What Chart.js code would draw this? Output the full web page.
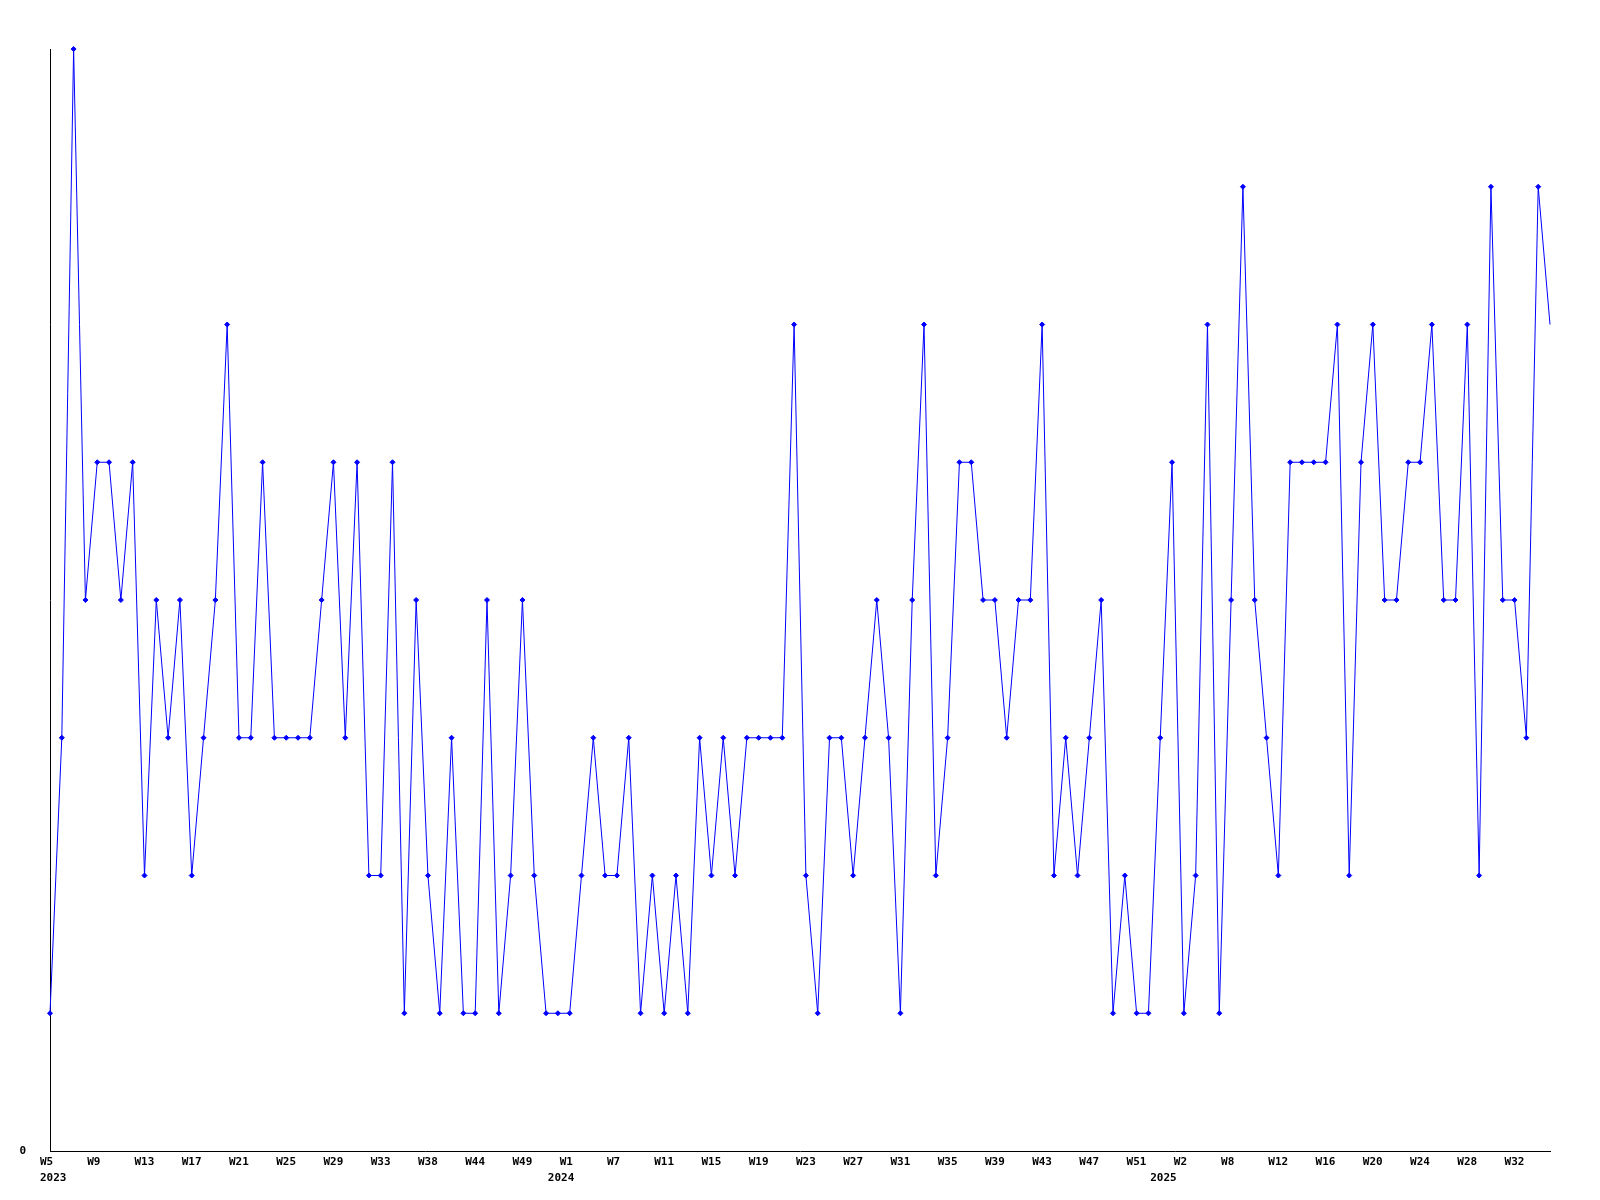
<!DOCTYPE html>
<html>
<head>
<meta charset="utf-8">
<style>
  html, body { margin: 0; padding: 0; background: #fff; }
  #wrap { width: 1600px; height: 1200px; }
</style>
</head>
<body>
<div id="wrap"><canvas id="myChart" width="1600" height="1200"></canvas></div>
<script src="https://cdn.jsdelivr.net/npm/chart.js@4.4.0/dist/chart.umd.min.js"></script>
<script>
// week categories per year (some weeks have no row)
var years = ['2023', '2024', '2025'];
var weeks2023 = ['W5', 'W6', 'W7', 'W8', 'W9', 'W10', 'W11', 'W12', 'W13', 'W14', 'W15', 'W16',
    'W17', 'W18', 'W19', 'W20', 'W21', 'W22', 'W23', 'W24', 'W25', 'W26', 'W27', 'W28', 'W29',
    'W30', 'W31', 'W32', 'W33', 'W34', 'W35', 'W37', 'W38', 'W40', 'W42', 'W43', 'W44', 'W45',
    'W46', 'W48', 'W49', 'W50', 'W51'];
var weeks2024 = ['W0', 'W1', 'W2', 'W4', 'W6', 'W7', 'W8', 'W9', 'W10', 'W11', 'W12', 'W13', 'W14',
    'W15', 'W16', 'W17', 'W18', 'W19', 'W20', 'W21', 'W22', 'W23', 'W24', 'W25', 'W26', 'W27',
    'W28', 'W29', 'W30', 'W31', 'W32', 'W33', 'W34', 'W35', 'W36', 'W37', 'W38', 'W39', 'W40',
    'W41', 'W42', 'W43', 'W44', 'W45', 'W46', 'W47', 'W48', 'W49', 'W50', 'W51', 'W52'];
var weeks2025 = ['W0', 'W1', 'W2', 'W3', 'W5', 'W6', 'W8', 'W9', 'W10', 'W11', 'W12', 'W13', 'W14',
    'W15', 'W16', 'W17', 'W18', 'W19', 'W20', 'W21', 'W22', 'W23', 'W24', 'W25', 'W26', 'W27',
    'W28', 'W29', 'W30', 'W31', 'W32', 'W33', 'W34', 'W35'];

var counts = [1, 3, 8, 4, 5, 5, 4, 5, 2, 4,
    3, 4, 2, 3, 4, 6, 3, 3, 5, 3,
    3, 3, 3, 4, 5, 3, 5, 2, 2, 5,
    1, 4, 2, 1, 3, 1, 1, 4, 1, 2,
    4, 2, 1, 1, 1, 2, 3, 2, 2, 3,
    1, 2, 1, 2, 1, 3, 2, 3, 2, 3,
    3, 3, 3, 6, 2, 1, 3, 3, 2, 3,
    4, 3, 1, 4, 6, 2, 3, 5, 5, 4,
    4, 3, 4, 4, 6, 2, 3, 2, 3, 4,
    1, 2, 1, 1, 3, 5, 1, 2, 6, 1,
    4, 7, 4, 3, 2, 5, 5, 5, 5, 6,
    2, 5, 6, 4, 4, 5, 5, 6, 4, 4,
    6, 2, 7, 4, 4, 3, 7, 6];

var labelEvery = 4;

// build labels; the year name goes under the first week of each year
var labels = [];
var yearAt = {};
[weeks2023, weeks2024, weeks2025].forEach(function (wk, y) {
    yearAt[labels.length] = years[y];
    labels = labels.concat(wk);
});

var tickFont = { family: 'DejaVu Sans Mono', size: 11, weight: 'bold', lineHeight: 1.45 };

var ctx = document.getElementById('myChart').getContext('2d');
var myChart = new Chart(ctx, {
    type: 'line',
    data: {
        labels: labels,
        datasets: [{
            data: counts,
            borderColor: '#0000ff',
            backgroundColor: '#0000ff',
            borderWidth: 1,
            tension: 0,
            pointStyle: 'rectRot',
            pointRadius: function (c) { return c.dataIndex === counts.length - 1 ? 0 : 2.5; },
            pointBorderWidth: 1,
            clip: 8
        }]
    },
    options: {
        responsive: false,
        animation: false,
        devicePixelRatio: 1,
        layout: {
            autoPadding: false,
            padding: { left: 0, top: 49, right: 50, bottom: 0 }
        },
        plugins: {
            legend: { display: false },
            tooltip: { enabled: false }
        },
        scales: {
            x: {
                offset: false,
                grid: { display: false, drawTicks: false },
                border: { display: true, color: '#000', width: 1 },
                ticks: {
                    autoSkip: false,
                    maxRotation: 0,
                    minRotation: 0,
                    align: 'start',
                    labelOffset: -10,
                    padding: 3,
                    color: '#000',
                    font: tickFont,
                    callback: function (value, index) {
                        var l = index % labelEvery ? '' : this.getLabelForValue(value);
                        if (yearAt[index]) return [l, yearAt[index]];
                        return l;
                    }
                },
                afterFit: function (s) { s.height = 49; }
            },
            y: {
                min: 0,
                max: 8,
                grid: { display: false, drawTicks: false },
                border: { display: true, color: '#000', width: 1 },
                ticks: {
                    stepSize: 1,
                    padding: 24,
                    color: '#000',
                    font: tickFont,
                    callback: function (v) { return v === 0 ? '0' : ''; }
                },
                afterFit: function (s) { s.width = 50; }
            }
        }
    }
});
</script>
</body>
</html>
